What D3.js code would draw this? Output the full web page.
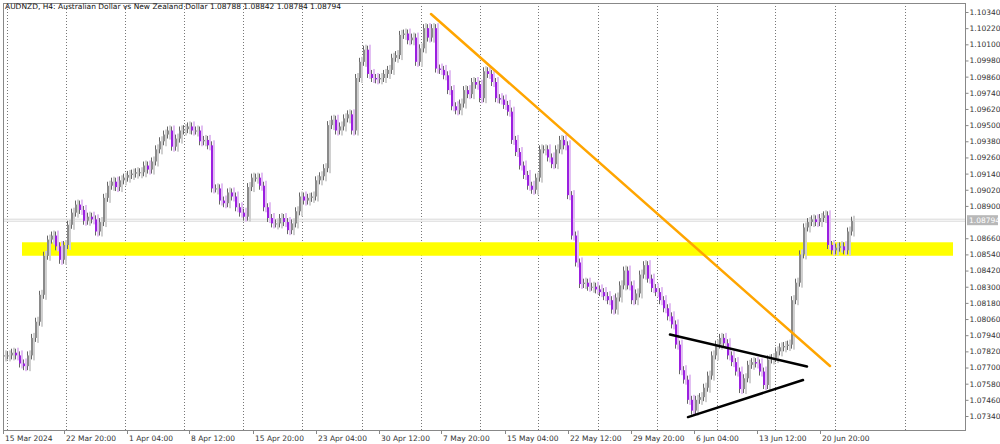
<!DOCTYPE html>
<html><head><meta charset="utf-8">
<script src="https://cdn.jsdelivr.net/npm/d3@7"></script>
<style>body{margin:0;background:#fff}svg{display:block}</style>
</head><body><svg id="c" width="1000" height="444"></svg>
<script>
const closes = [1.0779,1.0779,1.0781,1.0779,1.0773,1.0771,1.0779,1.0792,1.0804,1.0824,1.0853,1.0865,1.0868,1.0860,1.0850,1.0861,1.0876,1.0885,1.0891,1.0887,1.0879,1.0882,1.0880,1.0871,1.0878,1.0896,1.0905,1.0908,1.0904,1.0909,1.0911,1.0913,1.0914,1.0915,1.0915,1.0920,1.0917,1.0923,1.0932,1.0938,1.0943,1.0946,1.0934,1.0940,1.0946,1.0947,1.0949,1.0946,1.0946,1.0938,1.0939,1.0935,1.0903,1.0903,1.0894,1.0892,1.0900,1.0897,1.0889,1.0885,1.0882,1.0904,1.0911,1.0911,1.0905,1.0889,1.0881,1.0877,1.0877,1.0881,1.0878,1.0872,1.0877,1.0886,1.0897,1.0894,1.0896,1.0897,1.0909,1.0912,1.0918,1.0950,1.0954,1.0946,1.0949,1.0955,1.0958,1.0946,1.0985,1.0997,1.1006,1.0988,1.0985,1.0984,1.0985,1.0988,1.0991,1.1000,1.1002,1.1017,1.1018,1.1013,1.1015,1.0997,1.1007,1.1022,1.1015,1.1022,1.0992,1.0991,1.0987,1.0976,1.0964,1.0961,1.0966,1.0976,1.0973,1.0982,1.0980,1.0970,1.0990,1.0988,1.0982,1.0970,1.0969,1.0965,1.0960,1.0939,1.0930,1.0920,1.0913,1.0905,1.0902,1.0911,1.0932,1.0932,1.0926,1.0921,1.0932,1.0939,1.0935,1.0898,1.0868,1.0848,1.0832,1.0833,1.0830,1.0830,1.0828,1.0826,1.0823,1.0820,1.0813,1.0822,1.0831,1.0842,1.0831,1.0820,1.0825,1.0839,1.0846,1.0836,1.0829,1.0826,1.0820,1.0814,1.0808,1.0802,1.0787,1.0768,1.0761,1.0746,1.0738,1.0746,1.0748,1.0755,1.0764,1.0779,1.0787,1.0792,1.0788,1.0779,1.0774,1.0767,1.0754,1.0762,1.0772,1.0774,1.0773,1.0767,1.0757,1.0776,1.0777,1.0782,1.0785,1.0786,1.0787,1.0820,1.0833,1.0854,1.0874,1.0878,1.0880,1.0878,1.0881,1.0883,1.0861,1.0857,1.0859,1.0860,1.0857,1.0871,1.0879];
const priceTicks = [1.10340,1.10220,1.10100,1.09980,1.09860,1.09740,1.09620,1.09500,1.09380,1.09260,1.09140,1.09020,1.08900,1.08660,1.08540,1.08420,1.08300,1.08180,1.08060,1.07940,1.07820,1.07700,1.07580,1.07460,1.07340];
const dateLabels = ["15 Mar 2024","22 Mar 20:00","1 Apr 04:00","8 Apr 12:00","15 Apr 20:00","23 Apr 04:00","30 Apr 12:00","7 May 20:00","15 May 04:00","22 May 12:00","29 May 20:00","6 Jun 04:00","13 Jun 12:00","20 Jun 20:00"];
const dateBars = [0,15.25,31,46.5,62.5,78.25,94,109.5,125.5,141.25,157,172.75,188.5,204.25];
const gridBars = [1,15.75,30.5,45.25,60,74.75,89.75,104.5,119.25,133.75,148.75,163.5,178.5,193,208,225.5];
const title = "AUDNZD, H4:  Australian Dollar vs New Zealand Dollar  1.08788 1.08842 1.08784 1.08794";
const lastPrice = 1.08794;
const zone = [1.0853, 1.0863];
const trendOrange = [[107, 1.10325],[206.75, 1.07711]];
const triUpper = [[166.75, 1.07945],[201, 1.07707]];
const triLower = [[171.25, 1.07332],[200, 1.07607]];

const svg = d3.select("#c");
const L=3, R=965, T=3, B=430;
const x = d3.scaleLinear().domain([0, closes.length-1]).range([3, 851]);
const y = d3.scaleLinear().domain([1.07340, 1.10340]).range([416, 12]);
const font = "DejaVu Sans";

svg.append("g").selectAll("line").data(gridBars).join("line")
  .attr("x1",d=>Math.round(x(d))+0.5).attr("x2",d=>Math.round(x(d))+0.5)
  .attr("y1",T).attr("y2",B).attr("stroke","#777").attr("stroke-dasharray","1,2").attr("stroke-width",1);

svg.append("rect").attr("x",22).attr("width",953-22)
  .attr("y",y(zone[1])).attr("height",y(zone[0])-y(zone[1])).attr("fill","#ffff00");

svg.append("line").attr("x1",L).attr("x2",R).attr("y1",y(lastPrice)-1).attr("y2",y(lastPrice)-1).attr("stroke","#d8d8d8");
svg.append("line").attr("x1",L).attr("x2",R).attr("y1",y(lastPrice)+1).attr("y2",y(lastPrice)+1).attr("stroke","#d8d8d8");

const cg = svg.append("g");
closes.forEach((c,i)=>{
  const o = i===0 ? c : closes[i-1];
  const up = c>=o;
  const cx = Math.round(x(i));
  const top = y(Math.max(o,c)), bot = y(Math.min(o,c));
  const col = up ? "#8a8a8a" : "#9b1fe0";
  const ghost = up ? "#d0d0d0" : "#e2bff2";
  cg.append("rect").attr("x",cx+2).attr("y",top-5).attr("width",2).attr("height",Math.max(1,bot-top)+10).attr("fill",ghost);
  cg.append("line").attr("x1",cx+0.5).attr("x2",cx+0.5).attr("y1",top-4).attr("y2",bot+4).attr("stroke","#666").attr("stroke-width",1);
  cg.append("rect").attr("x",cx).attr("y",top).attr("width",2).attr("height",Math.max(1,bot-top)).attr("fill",col);
});

const ln = (p,c,w)=>svg.append("line").attr("x1",x(p[0][0])).attr("y1",y(p[0][1])).attr("x2",x(p[1][0])).attr("y2",y(p[1][1])).attr("stroke",c).attr("stroke-width",w).attr("stroke-linecap","round");
ln(trendOrange,"#ffa500",2.5);
ln(triUpper,"#000",2.5);
ln(triLower,"#000",2.5);

svg.append("rect").attr("x",L+0.5).attr("y",T+0.5).attr("width",R-L).attr("height",B-T).attr("fill","none").attr("stroke","#888");

const ya = svg.append("g").attr("transform",`translate(${R+0.5},0)`)
  .call(d3.axisRight(y).tickValues(priceTicks).tickSize(3).tickFormat(d3.format(".5f")));
ya.select(".domain").remove();
ya.selectAll("line").attr("stroke","#888");
ya.selectAll("text").attr("font-family",font).attr("font-size",7.5).attr("fill","#333").attr("x",4);

svg.append("rect").attr("x",R+2).attr("y",y(lastPrice)-5).attr("width",31).attr("height",10).attr("fill","#b8b8b8");
svg.append("text").attr("x",R+4).attr("y",y(lastPrice)+3).attr("font-family",font).attr("font-size",7.5).attr("fill","#fff").text(lastPrice.toFixed(5));

const xa = svg.append("g");
xa.selectAll("line").data(dateBars).join("line")
  .attr("x1",d=>Math.round(x(d))+0.5).attr("x2",d=>Math.round(x(d))+0.5).attr("y1",B).attr("y2",B+4).attr("stroke","#888");
xa.selectAll("text").data(dateLabels).join("text")
  .attr("x",(d,i)=>x(dateBars[i])+2).attr("y",441).attr("font-family",font).attr("font-size",7.5).attr("fill","#333").text(d=>d);

svg.append("text").attr("x",5).attr("y",9).attr("font-family",font).attr("font-size",7.5).attr("fill","#111").text(title);
</script></body></html>
